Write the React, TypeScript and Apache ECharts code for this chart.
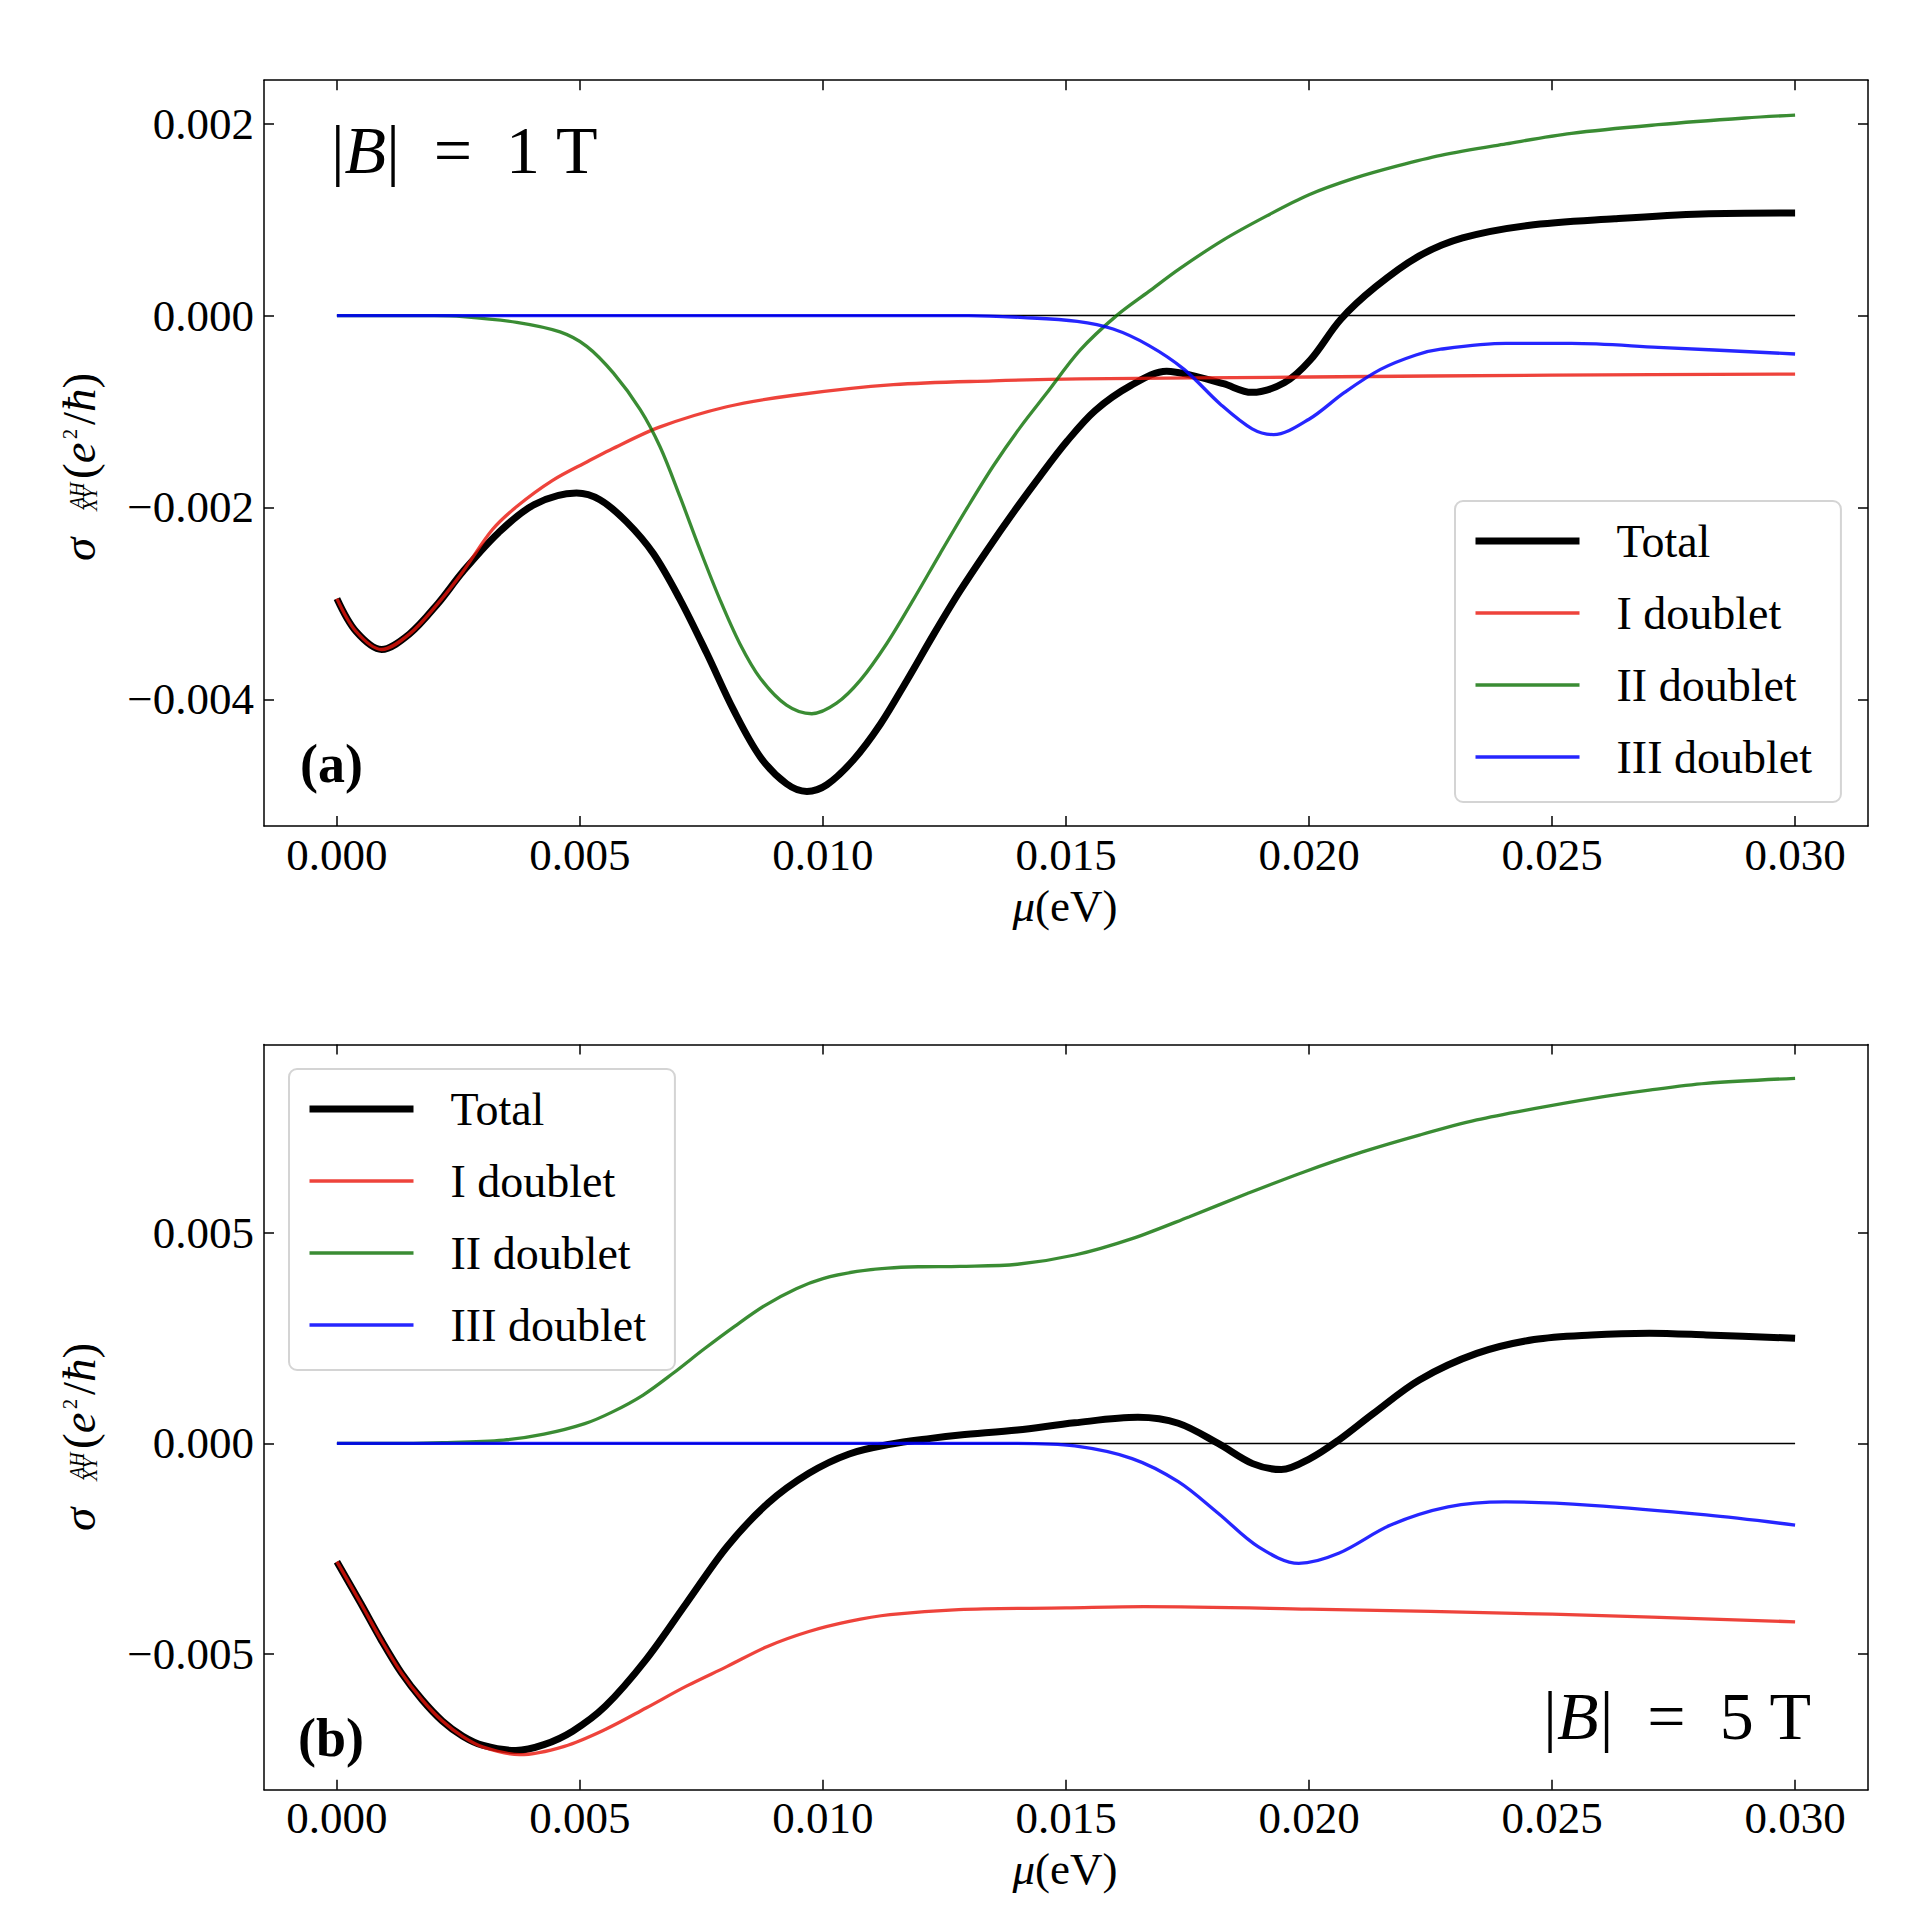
import React, { useEffect, useRef } from "react";
import * as echarts from "echarts";

// ---------- data ----------
const X_TICKS = [0, 0.005, 0.01, 0.015, 0.02, 0.025, 0.03];
const Y_TICKS_A = [-0.004, -0.002, 0, 0.002];
const Y_TICKS_B = [-0.005, 0, 0.005];
const SERIES_NAMES = ["Total", "I doublet", "II doublet", "III doublet"];

const ZERO_X = [0, 0.03];
const ZERO_Y = [0, 0];

// Panel (a) |B| = 1 T
const TOTAL_A_X = [0, 0.00039, 0.00092, 0.00149, 0.00208, 0.00259, 0.00333, 0.00406, 0.00493, 0.00541, 0.00596, 0.00651, 0.00706, 0.00761, 0.00816, 0.00871, 0.00925, 0.00967, 0.01008, 0.01063, 0.01118, 0.01173, 0.01228, 0.01282, 0.01337, 0.01392, 0.01447, 0.01502, 0.0156, 0.01633, 0.01707, 0.01765, 0.01824, 0.01882, 0.01949, 0.02003, 0.02065, 0.02137, 0.02226, 0.02316, 0.0245, 0.02629, 0.02808, 0.03];
const TOTAL_A_Y = [-0.00295, -0.00329, -0.00348, -0.00332, -0.003, -0.00267, -0.00226, -0.00197, -0.00185, -0.00192, -0.00215, -0.00248, -0.00296, -0.00352, -0.00411, -0.0046, -0.00488, -0.00496, -0.00489, -0.00463, -0.00426, -0.0038, -0.00332, -0.00287, -0.00245, -0.00205, -0.00167, -0.00131, -0.00099, -0.00073, -0.00058, -0.00063, -0.00071, -0.0008, -0.0007, -0.00046, -0.00004, 0.0003, 0.00062, 0.00081, 0.00094, 0.00101, 0.00106, 0.00107];

const RED_A_X = [0, 0.00039, 0.00092, 0.00149, 0.00208, 0.00259, 0.0032, 0.0037, 0.00443, 0.00516, 0.00562, 0.00665, 0.00802, 0.0094, 0.01145, 0.0135, 0.01529, 0.02, 0.025, 0.03];
const RED_A_Y = [-0.00295, -0.00329, -0.00348, -0.00332, -0.003, -0.00267, -0.00223, -0.00199, -0.00172, -0.00152, -0.0014, -0.00116, -0.00095, -0.00083, -0.00072, -0.00068, -0.00066, -0.00064, -0.00062, -0.00061];

const GREEN_A_X = [0, 0.001, 0.002, 0.00259, 0.0037, 0.00459, 0.00514, 0.00569, 0.00624, 0.00665, 0.00706, 0.00747, 0.00788, 0.00829, 0.00871, 0.00925, 0.00977, 0.01028, 0.01077, 0.01131, 0.01186, 0.01241, 0.01296, 0.0135, 0.01405, 0.0146, 0.01529, 0.01604, 0.0167, 0.01734, 0.01824, 0.01913, 0.02, 0.02092, 0.02182, 0.02271, 0.02405, 0.0254, 0.02718, 0.02897, 0.03];
const GREEN_A_Y = [0, 0, 0, -0.00001, -0.00007, -0.00017, -0.00032, -0.0006, -0.00098, -0.00137, -0.00189, -0.00244, -0.00296, -0.00342, -0.00378, -0.00406, -0.00415, -0.00404, -0.0038, -0.00342, -0.00296, -0.00248, -0.00201, -0.00157, -0.00117, -0.00081, -0.00036, 0, 0.00025, 0.00049, 0.00079, 0.00104, 0.00126, 0.00143, 0.00156, 0.00167, 0.00179, 0.0019, 0.00199, 0.00206, 0.00209];

const BLUE_A_X = [0, 0.005, 0.01, 0.013, 0.01413, 0.01523, 0.01597, 0.0167, 0.01743, 0.01817, 0.01883, 0.01927, 0.02, 0.02073, 0.02147, 0.0222, 0.02271, 0.02405, 0.0254, 0.02718, 0.03];
const BLUE_A_Y = [0, 0, 0, 0, -0.00002, -0.00006, -0.00014, -0.00031, -0.00056, -0.00092, -0.00118, -0.00124, -0.00108, -0.0008, -0.00056, -0.00041, -0.00035, -0.00029, -0.00029, -0.00033, -0.0004];

// Panel (b) |B| = 5 T
const TOTAL_B_X = [0, 0.00049, 0.00091, 0.00133, 0.00175, 0.00217, 0.00259, 0.00301, 0.00368, 0.00426, 0.00485, 0.00552, 0.00636, 0.00719, 0.00803, 0.00887, 0.00971, 0.01054, 0.01138, 0.01222, 0.01282, 0.014, 0.01518, 0.01648, 0.01731, 0.01813, 0.01884, 0.01943, 0.02002, 0.02061, 0.02132, 0.02227, 0.02345, 0.02463, 0.02581, 0.027, 0.02817, 0.03];
const TOTAL_B_Y = [-0.00281, -0.0038, -0.00467, -0.00546, -0.00609, -0.0066, -0.00696, -0.00718, -0.0073, -0.00716, -0.00684, -0.00625, -0.00514, -0.0038, -0.00245, -0.00142, -0.00071, -0.00025, -0.00002, 0.00012, 0.0002, 0.00032, 0.00049, 0.00062, 0.00048, 0, -0.00048, -0.00062, -0.00036, 0.00008, 0.00071, 0.00151, 0.00214, 0.00247, 0.00258, 0.00262, 0.00258, 0.0025];

const RED_B_X = [0, 0.00049, 0.00091, 0.00133, 0.00175, 0.00217, 0.00259, 0.00301, 0.00376, 0.00468, 0.00552, 0.00636, 0.00719, 0.00803, 0.00887, 0.00971, 0.01054, 0.01138, 0.01279, 0.015, 0.0166, 0.02, 0.025, 0.03];
const RED_B_Y = [-0.00281, -0.0038, -0.00467, -0.00546, -0.00609, -0.0066, -0.00697, -0.00722, -0.0074, -0.0072, -0.0068, -0.00629, -0.00577, -0.0053, -0.00482, -0.00447, -0.00423, -0.00407, -0.00395, -0.00391, -0.00388, -0.00394, -0.00406, -0.00424];

const GREEN_B_X = [0, 0.001, 0.00217, 0.00343, 0.00426, 0.0051, 0.00567, 0.0063, 0.00693, 0.00756, 0.00819, 0.00882, 0.00945, 0.01, 0.0107, 0.01134, 0.01196, 0.01282, 0.014, 0.01518, 0.01636, 0.01754, 0.01873, 0.01991, 0.0211, 0.02227, 0.02345, 0.02463, 0.02581, 0.027, 0.02817, 0.03];
const GREEN_B_Y = [0, 0, 0.00002, 0.00008, 0.00022, 0.00047, 0.00075, 0.00115, 0.00168, 0.00225, 0.00279, 0.00329, 0.00368, 0.00392, 0.00409, 0.00417, 0.0042, 0.00421, 0.00426, 0.00448, 0.00487, 0.00539, 0.00594, 0.00646, 0.00693, 0.00733, 0.00769, 0.00796, 0.0082, 0.0084, 0.00856, 0.00868];

const BLUE_B_X = [0, 0.005, 0.01, 0.014, 0.01518, 0.01636, 0.01731, 0.01813, 0.01896, 0.01979, 0.02061, 0.02168, 0.02286, 0.02404, 0.02581, 0.02817, 0.03];
const BLUE_B_Y = [0, 0, 0, 0, -0.00006, -0.00036, -0.00091, -0.00166, -0.00246, -0.00285, -0.00261, -0.00194, -0.00151, -0.00139, -0.00147, -0.0017, -0.00194];

// ---------- style ----------
const FONT = "'Liberation Serif', 'DejaVu Serif', serif";
const C_TOTAL = "#000000";
const C_RED = "rgba(234,20,10,0.8)";
const C_GREEN = "rgba(9,111,0,0.8)";
const C_BLUE = "rgba(0,0,255,0.85)";
const W_TOTAL = 7;
const W_THIN = 3.3;
const SMOOTH = 0.33;

const X_MIN = -0.0015;
const X_MAX = 0.0315;
const A_MIN = -0.00532;
const A_MAX = 0.002454;
const B_MIN = -0.008234;
const B_MAX = 0.009484;

const fmt = (v: number) => {
  const a = Math.abs(v) < 1e-12 ? 0 : v;
  return (a < 0 ? "\u2212" : "") + Math.abs(a).toFixed(3);
};

const zip = (xs: number[], ys: number[]) => xs.map((x, i) => [x, ys[i]]);

function lineSeries(name: string | undefined, xs: number[], ys: number[], color: string, width: number, axis: number, z: number) {
  return {
    type: "line",
    name,
    xAxisIndex: axis * 2,
    yAxisIndex: axis * 2,
    data: zip(xs, ys),
    symbol: "none",
    showSymbol: false,
    smooth: SMOOTH,
    lineStyle: { color, width, cap: "butt" },
    itemStyle: { color },
    z,
    silent: true,
    animation: false,
  };
}

function xAxis(gridIndex: number, position: string, showLabel: boolean) {
  return {
    type: "value",
    gridIndex,
    position,
    min: X_MIN,
    max: X_MAX,
    axisLine: { show: true, onZero: false, lineStyle: { color: "#000", width: 1.5 } },
    axisTick: { show: true, inside: true, length: 10, customValues: X_TICKS, lineStyle: { color: "#000", width: 1.5 } },
    axisLabel: { show: showLabel, customValues: X_TICKS, formatter: fmt, fontFamily: FONT, fontSize: 45, color: "#000", margin: 6 },
    splitLine: { show: false },
  };
}

function yAxis(gridIndex: number, position: string, showLabel: boolean, min: number, max: number, ticks: number[]) {
  return {
    type: "value",
    gridIndex,
    position,
    min,
    max,
    axisLine: { show: true, onZero: false, lineStyle: { color: "#000", width: 1.5 } },
    axisTick: { show: true, inside: true, length: 10, customValues: ticks, lineStyle: { color: "#000", width: 1.5 } },
    axisLabel: { show: showLabel, customValues: ticks, formatter: fmt, fontFamily: FONT, fontSize: 45, color: "#000", margin: 10 },
    splitLine: { show: false },
  };
}

function legend(left: number, top: number) {
  const widths = [W_TOTAL, W_THIN, W_THIN, W_THIN];
  return {
    show: true,
    orient: "vertical",
    left,
    top,
    data: SERIES_NAMES.map((n, i) => ({ name: n, lineStyle: { width: widths[i] }, itemStyle: { opacity: 0 } })),
    itemWidth: 104,
    itemHeight: 46,
    itemGap: 26,
    padding: [17, 29, 22, 17],
    backgroundColor: "#ffffff",
    borderColor: "rgba(204,204,204,0.85)",
    borderWidth: 2,
    borderRadius: 8,
    selectedMode: false,
    itemStyle: { opacity: 0 },
    textStyle: { fontFamily: FONT, fontSize: 46, color: "#000", padding: [0, 0, 0, 32] },
  };
}

const ROT = Math.PI / 2;
function yLabel(dy: number) {
  const t = (text: string, x: number, y: number, size: number, italic: boolean, extra: any = {}) => ({
    type: "text",
    x,
    y: y + dy,
    rotation: ROT,
    silent: true,
    style: {
      text,
      fontFamily: FONT,
      fontSize: size,
      fontStyle: italic ? "italic" : "normal",
      fill: "#000",
      align: "left",
      verticalAlign: "middle",
      ...extra,
    },
  });
  return [
    t("σ", 79, 561, 47, true),
    t("AH", 77, 509, 20, true),
    t("XY", 89.5, 511, 20, true),
    t("({i|e}", 79, 479, 47, false, { rich: { i: { fontStyle: "italic", fontSize: 47, fontFamily: FONT } } }),
    t("2", 69.5, 439, 20, false),
    t("/{i|ħ})", 79, 425, 47, false, { rich: { i: { fontStyle: "italic", fontSize: 47, fontFamily: FONT } } }),
  ];
}

function muLabel(y: number) {
  return {
    type: "text",
    x: 1065,
    y,
    silent: true,
    style: {
      text: "{i|μ}(eV)",
      fontFamily: FONT,
      fontSize: 45,
      fill: "#000",
      align: "center",
      verticalAlign: "middle",
      rich: { i: { fontStyle: "italic", fontSize: 45, fontFamily: FONT } },
    },
  };
}

function plainText(text: string, x: number, y: number, size: number, align: string, bold = false) {
  return {
    type: "text",
    x,
    y,
    silent: true,
    z: 100,
    style: {
      text,
      fontFamily: FONT,
      fontSize: size,
      fontWeight: bold ? "bold" : "normal",
      fill: "#000",
      align,
      verticalAlign: "middle",
      rich: { i: { fontStyle: "italic", fontSize: size, fontFamily: FONT } },
    },
  };
}

export default function App() {
  const ref = useRef<HTMLDivElement>(null);
  useEffect(() => {
    if (!ref.current) return;
    const chart = echarts.init(ref.current, undefined, { renderer: "svg" });
    const option: any = {
      animation: false,
      backgroundColor: "#ffffff",
      grid: [
        { left: 264, top: 80.2, width: 1604, height: 745.8, containLabel: false },
        { left: 264, top: 1044.5, width: 1604, height: 745.3, containLabel: false },
      ],
      xAxis: [xAxis(0, "bottom", true), xAxis(0, "top", false), xAxis(1, "bottom", true), xAxis(1, "top", false)],
      yAxis: [
        yAxis(0, "left", true, A_MIN, A_MAX, Y_TICKS_A),
        yAxis(0, "right", false, A_MIN, A_MAX, Y_TICKS_A),
        yAxis(1, "left", true, B_MIN, B_MAX, Y_TICKS_B),
        yAxis(1, "right", false, B_MIN, B_MAX, Y_TICKS_B),
      ],
      legend: [legend(1455, 501), legend(289, 1069)],
      series: [
        { ...lineSeries(undefined, ZERO_X, ZERO_Y, "#000", 1.5, 0, 1), smooth: false },
        lineSeries("Total", TOTAL_A_X, TOTAL_A_Y, C_TOTAL, W_TOTAL, 0, 2),
        lineSeries("I doublet", RED_A_X, RED_A_Y, C_RED, W_THIN, 0, 3),
        lineSeries("II doublet", GREEN_A_X, GREEN_A_Y, C_GREEN, W_THIN, 0, 4),
        lineSeries("III doublet", BLUE_A_X, BLUE_A_Y, C_BLUE, W_THIN, 0, 5),
        { ...lineSeries(undefined, ZERO_X, ZERO_Y, "#000", 1.5, 1, 1), smooth: false },
        lineSeries("Total", TOTAL_B_X, TOTAL_B_Y, C_TOTAL, W_TOTAL, 1, 2),
        lineSeries("I doublet", RED_B_X, RED_B_Y, C_RED, W_THIN, 1, 3),
        lineSeries("II doublet", GREEN_B_X, GREEN_B_Y, C_GREEN, W_THIN, 1, 4),
        lineSeries("III doublet", BLUE_B_X, BLUE_B_Y, C_BLUE, W_THIN, 1, 5),
      ],
      graphic: [
        ...yLabel(0),
        ...yLabel(970),
        muLabel(906),
        muLabel(1869),
        plainText("|{i|B}|\u2002=\u20021 T", 331, 150, 68, "left"),
        plainText("|{i|B}|\u2002=\u20025 T", 1811, 1716, 68, "right"),
        plainText("(a)", 331.5, 764, 54, "center", true),
        plainText("(b)", 331, 1738, 54, "center", true),
      ],
    };
    chart.setOption(option);
    return () => chart.dispose();
  }, []);
  return (
    <div
      ref={ref}
      style={{ position: "absolute", left: 0, top: 0, width: 1920, height: 1920, background: "#fff" }}
    />
  );
}
